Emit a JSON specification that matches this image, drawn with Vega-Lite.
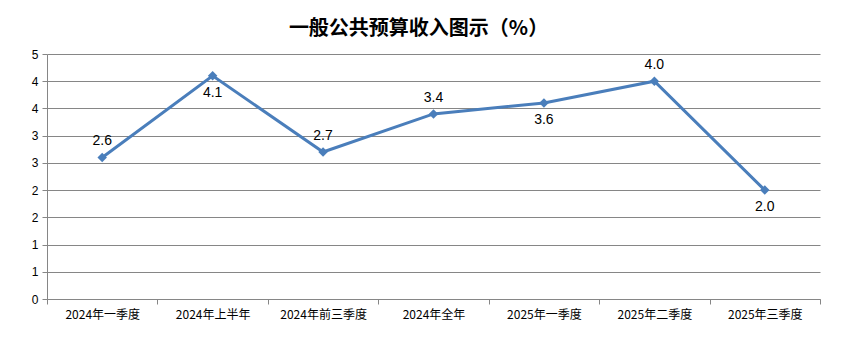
{
  "$schema": "https://vega.github.io/schema/vega-lite/v6.json",
  "width": 773,
  "height": 245,
  "autosize": {"type": "none"},
  "padding": {"left": 47, "top": 54, "right": 28, "bottom": 56},
  "background": "white",
  "title": {
    "text": "一般公共预算收入图示（%）",
    "font": "Noto Sans CJK SC",
    "fontSize": 20,
    "fontWeight": "bold",
    "color": "#000000",
    "anchor": "middle",
    "dx": -15,
    "offset": 9
  },
  "config": {
    "view": {"stroke": null},
    "axis": {
      "labelFont": "Noto Sans CJK SC",
      "labelFontSize": 12,
      "labelColor": "#000000",
      "domainColor": "#868686",
      "tickColor": "#868686",
      "gridColor": "#868686",
      "gridOpacity": 1,
      "title": null
    }
  },
  "data": {
    "values": [
      {"period": "2024年一季度", "value": 2.6},
      {"period": "2024年上半年", "value": 4.1},
      {"period": "2024年前三季度", "value": 2.7},
      {"period": "2024年全年", "value": 3.4},
      {"period": "2025年一季度", "value": 3.6},
      {"period": "2025年二季度", "value": 4.0},
      {"period": "2025年三季度", "value": 2.0}
    ]
  },
  "encoding": {
    "x": {
      "field": "period",
      "type": "nominal",
      "sort": null,
      "scale": {"paddingInner": 0, "paddingOuter": 0},
      "axis": {
        "labelAngle": 0,
        "labelPadding": 5,
        "tickBand": "extent",
        "tickSize": 5,
        "grid": false,
        "domainWidth": 1
      }
    },
    "y": {
      "field": "value",
      "type": "quantitative",
      "scale": {"domain": [0, 4.5], "nice": false},
      "axis": {
        "values": [0, 0.5, 1, 1.5, 2, 2.5, 3, 3.5, 4, 4.5],
        "format": ".0f",
        "grid": true,
        "tickSize": 5,
        "labelPadding": 4,
        "labelFont": "Liberation Sans",
        "labelFontSize": 12
      }
    }
  },
  "layer": [
    {
      "mark": {
        "type": "line",
        "color": "#4A7EBB",
        "strokeWidth": 3,
        "point": {"shape": "diamond", "size": 90, "color": "#4A7EBB", "filled": true}
      }
    },
    {
      "transform": [{"filter": "indexof(['2024年上半年','2025年一季度','2025年三季度'], datum.period) < 0"}],
      "mark": {"type": "text", "dy": -16, "font": "Liberation Sans", "fontSize": 14, "color": "#000000"},
      "encoding": {"text": {"field": "value", "type": "quantitative", "format": ".1f"}}
    },
    {
      "transform": [{"filter": "indexof(['2024年上半年','2025年一季度','2025年三季度'], datum.period) >= 0"}],
      "mark": {"type": "text", "dy": 17, "font": "Liberation Sans", "fontSize": 14, "color": "#000000"},
      "encoding": {"text": {"field": "value", "type": "quantitative", "format": ".1f"}}
    }
  ]
}
